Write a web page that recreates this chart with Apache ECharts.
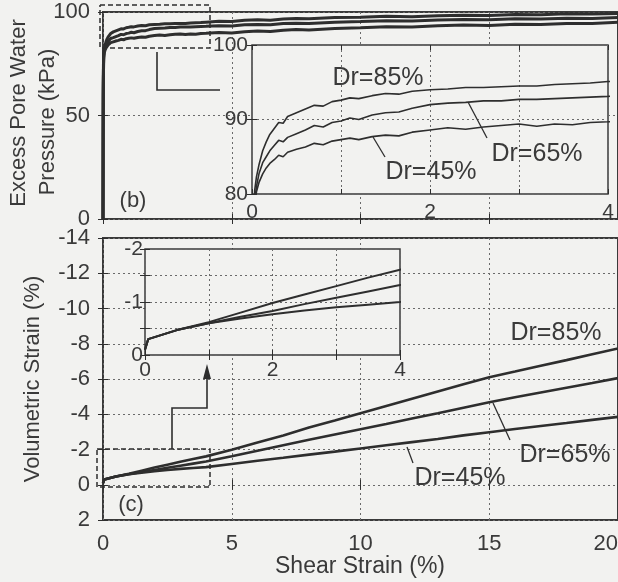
<!DOCTYPE html>
<html><head><meta charset="utf-8">
<script src="https://cdn.jsdelivr.net/npm/echarts/dist/echarts.min.js"></script>
<style>html,body{margin:0;padding:0;background:#f2f2f0}#c{width:618px;height:582px}</style>
</head><body><div id="c"></div>
<script>
// ---- Panel (b): excess pore water pressure (kPa) vs shear strain (%)
const bStrain = [0, 0.005, 0.01, 0.02, 0.03, 0.05, 0.08, 0.12, 0.16, 0.2, 0.25, 0.3, 0.35, 0.4, 0.5, 0.6, 0.7, 0.8, 0.9, 1.0, 1.1, 1.2, 1.35, 1.5, 1.65, 1.8, 2.0, 2.2, 2.4, 2.6, 2.8, 3.0, 3.2, 3.4, 3.6, 3.8, 4.0, 4.5, 5, 5.5, 6, 6.5, 7, 7.5, 8, 9, 10, 11, 12, 13, 14, 15, 16, 17, 18, 19, 20];
const bDr85 = [0, 40, 66, 77, 80.5, 82.3, 84.0, 85.8, 87.0, 88.0, 88.8, 89.6, 89.5, 90.4, 90.9, 91.4, 91.9, 91.8, 92.4, 92.6, 92.9, 92.8, 93.2, 93.5, 93.4, 93.8, 94.0, 94.1, 94.3, 94.3, 94.4, 94.5, 94.5, 94.7, 94.8, 94.9, 95.1, 95.5, 95.4, 96.0, 96.2, 96.0, 96.6, 96.9, 96.7, 97.3, 97.5, 97.9, 97.7, 98.2, 98.4, 98.3, 98.8, 98.7, 99.1, 99.0, 99.3];
const bDr65 = [0, 36, 62, 75, 79, 81.0, 82.8, 84.2, 85.0, 85.8, 86.5, 87.2, 87.0, 87.6, 88.1, 88.6, 89.2, 89.0, 89.6, 89.8, 90.2, 90.0, 90.6, 90.9, 91.0, 91.5, 92.0, 92.2, 92.3, 92.5, 92.5, 92.7, 92.7, 92.8, 92.9, 93.0, 93.1, 93.4, 93.2, 93.8, 94.0, 93.8, 94.4, 94.6, 94.5, 95.1, 95.4, 95.8, 95.6, 96.1, 96.4, 96.2, 96.7, 96.6, 97.0, 96.9, 97.3];
const bDr45 = [0, 32, 58, 72, 78, 80.3, 81.6, 82.7, 83.5, 84.1, 84.6, 85.2, 85.0, 85.6, 86.0, 86.3, 86.8, 86.6, 87.1, 87.3, 87.5, 87.3, 87.7, 87.9, 87.8, 88.3, 88.6, 88.9, 88.7, 89.0, 89.2, 89.4, 89.1, 89.4, 89.3, 89.6, 89.7, 90.1, 89.9, 90.5, 90.8, 90.6, 91.2, 91.5, 91.3, 92.0, 92.4, 92.9, 92.7, 93.3, 93.7, 93.5, 94.1, 94.0, 94.5, 94.4, 95.0];

// ---- Panel (c): volumetric strain (%) vs shear strain (%)
const cStrain = [0, 0.05, 0.5, 1, 1.5, 2, 2.5, 3, 3.5, 4, 5, 6, 7, 8, 9, 10, 11, 12, 13, 14, 15, 16, 17, 18, 19, 20];
const cDr85 = [-0.1, -0.3, -0.47, -0.62, -0.8, -0.98, -1.14, -1.3, -1.46, -1.61, -1.98, -2.4, -2.8, -3.25, -3.65, -4.06, -4.47, -4.88, -5.29, -5.7, -6.1, -6.42, -6.75, -7.07, -7.4, -7.73];
const cDr65 = [-0.1, -0.3, -0.47, -0.6, -0.72, -0.83, -0.96, -1.08, -1.2, -1.32, -1.62, -1.93, -2.24, -2.55, -2.85, -3.15, -3.45, -3.76, -4.06, -4.37, -4.68, -4.96, -5.23, -5.5, -5.77, -6.05];
const cDr45 = [-0.1, -0.3, -0.47, -0.6, -0.69, -0.77, -0.84, -0.9, -0.95, -1.0, -1.18, -1.36, -1.53, -1.71, -1.88, -2.06, -2.24, -2.42, -2.6, -2.8, -2.98, -3.16, -3.33, -3.5, -3.68, -3.85];

// ---- Labels
const seriesNames = ['Dr=85%', 'Dr=65%', 'Dr=45%'];
const titleB1 = 'Excess Pore Water';
const titleB2 = 'Pressure (kPa)';
const titleC = 'Volumetric Strain (%)';
const titleX = 'Shear Strain (%)';

const FONT = '"Liberation Sans", Arial, Helvetica, sans-serif';
const INK = '#2e2e2e';
const TXT = '#3a3a3a';
const GRIDC = '#6a6a6a';
const BG = '#f2f2f0';

const zip = (xs, ys) => xs.map((x, i) => [x, ys[i]]);

function axisBase(o) {
  return Object.assign({
    type: 'value',
    axisLine: { show: false },
    axisTick: { show: true, inside: true, length: 5, lineStyle: { color: INK, width: 1 } },
    axisLabel: { show: true, color: TXT, fontSize: 22, fontFamily: FONT, margin: 13 },
    splitLine: { show: true, lineStyle: { color: GRIDC, type: [2, 3], width: 1 } }
  }, o);
}
function mirror(o) {
  return axisBase(Object.assign({ axisLabel: { show: false }, splitLine: { show: false } }, o));
}

const evenLabel = v => (Math.round(v) % 2 === 0 ? String(v) : '');
const intLabel = v => (Number.isInteger(v) ? String(v) : '');

const option = {
  backgroundColor: BG,
  animation: false,
  grid: [
    { left: 103, top: 12, width: 515, height: 207, show: true, borderColor: '#3a3a3a', borderWidth: 2, backgroundColor: 'transparent', containLabel: false, outerBoundsMode: 'none' },
    { left: 252, top: 45, width: 356, height: 149, show: true, borderColor: '#3a3a3a', borderWidth: 1.5, backgroundColor: BG, z: 5, containLabel: false, outerBoundsMode: 'none' },
    { left: 103, top: 238, width: 515, height: 282, show: true, borderColor: '#3a3a3a', borderWidth: 2, backgroundColor: 'transparent', containLabel: false, outerBoundsMode: 'none' },
    { left: 145, top: 249, width: 255, height: 106, show: true, borderColor: '#3a3a3a', borderWidth: 1.5, backgroundColor: BG, z: 5, containLabel: false, outerBoundsMode: 'none' }
  ],
  xAxis: [
    axisBase({ gridIndex: 0, min: 0, max: 20, interval: 5, axisLabel: { show: false } }),
    axisBase({ gridIndex: 1, min: 0, max: 4, interval: 1, z: 6, axisLabel: { color: TXT, fontSize: 21, fontFamily: FONT, margin: 8, formatter: evenLabel } }),
    axisBase({ gridIndex: 2, min: 0, max: 20, interval: 5, axisLabel: { color: TXT, fontSize: 22, fontFamily: FONT, margin: 13, alignMaxLabel: 'right' } }),
    axisBase({ gridIndex: 3, min: 0, max: 4, interval: 1, z: 6, axisLabel: { color: TXT, fontSize: 21, fontFamily: FONT, margin: 5, formatter: evenLabel } }),
    mirror({ gridIndex: 0, position: 'top', min: 0, max: 20, interval: 5 }),
    mirror({ gridIndex: 1, position: 'top', min: 0, max: 4, interval: 1, z: 6 }),
    mirror({ gridIndex: 2, position: 'top', min: 0, max: 20, interval: 5 }),
    mirror({ gridIndex: 3, position: 'top', min: 0, max: 4, interval: 1, z: 6 })
  ],
  yAxis: [
    axisBase({ gridIndex: 0, min: 0, max: 100, interval: 50 }),
    axisBase({ gridIndex: 1, min: 80, max: 100, interval: 10, z: 6, axisLabel: { color: TXT, fontSize: 21, fontFamily: FONT, margin: 4 } }),
    axisBase({ gridIndex: 2, min: -14, max: 2, interval: 2, inverse: true }),
    axisBase({ gridIndex: 3, min: -2, max: 0, interval: 0.5, inverse: true, z: 6, axisLabel: { color: TXT, fontSize: 21, fontFamily: FONT, margin: 2, formatter: intLabel } }),
    mirror({ gridIndex: 0, position: 'right', min: 0, max: 100, interval: 50 }),
    mirror({ gridIndex: 1, position: 'right', min: 80, max: 100, interval: 10, z: 6 }),
    mirror({ gridIndex: 2, position: 'right', min: -14, max: 2, interval: 2, inverse: true }),
    mirror({ gridIndex: 3, position: 'right', min: -2, max: 0, interval: 0.5, inverse: true, z: 6 })
  ],
  series: []
};

const bSets = [bDr85, bDr65, bDr45];
const cSets = [cDr85, cDr65, cDr45];
bSets.forEach((d, i) => {
  option.series.push({ name: seriesNames[i], type: 'line', xAxisIndex: 0, yAxisIndex: 0, data: zip(bStrain, d), showSymbol: false, lineStyle: { color: INK, width: 3 }, z: 2 });
  option.series.push({ name: seriesNames[i], type: 'line', xAxisIndex: 1, yAxisIndex: 1, data: zip(bStrain, d), showSymbol: false, clip: true, lineStyle: { color: INK, width: 1.6 }, z: 7 });
});
cSets.forEach((d, i) => {
  option.series.push({ name: seriesNames[i], type: 'line', xAxisIndex: 2, yAxisIndex: 2, data: zip(cStrain, d), showSymbol: false, lineStyle: { color: INK, width: 2.6 }, z: 2 });
  option.series.push({ name: seriesNames[i], type: 'line', xAxisIndex: 3, yAxisIndex: 3, data: zip(cStrain, d), showSymbol: false, clip: true, lineStyle: { color: INK, width: 2 }, z: 7 });
});

function txt(text, x, y, size, rot) {
  return { type: 'text', x: x, y: y, rotation: rot || 0, z: 100,
    style: { text: text, fill: TXT, fontSize: size, fontFamily: FONT, align: 'center', verticalAlign: 'middle' } };
}
function line(pts, dash, w) {
  return { type: 'polyline', z: 100, shape: { points: pts },
    style: { stroke: INK, lineWidth: w || 1.3, fill: null, lineDash: dash || null } };
}
option.graphic = [
  txt(titleB1, 19, 113, 22, Math.PI / 2),
  txt(titleB2, 48, 122, 22, Math.PI / 2),
  txt(titleC, 33, 379, 22, Math.PI / 2),
  txt(titleX, 360, 567, 23, 0),
  txt('(b)', 133, 201, 22, 0),
  txt('(c)', 131, 505, 22, 0),
  txt(seriesNames[0], 378, 78, 25, 0),
  txt(seriesNames[1], 537, 154, 25, 0),
  txt(seriesNames[2], 431, 172, 25, 0),
  txt(seriesNames[0], 556, 333, 25, 0),
  txt(seriesNames[1], 565, 455, 25, 0),
  txt(seriesNames[2], 460, 478, 25, 0),
  line([[468, 102], [487, 138]]),
  line([[373, 137], [385, 157]]),
  line([[493, 403], [510, 440]]),
  line([[407, 447], [413, 463]]),
  // zoom boxes and connectors
  line([[100, 5], [210, 5], [210, 48], [100, 48], [100, 5]], [5, 3], 1.5),
  line([[157, 52], [157, 90], [220, 90]], null, 1.6),
  line([[97, 449], [210, 449], [210, 487], [97, 487], [97, 449]], [5, 3], 1.5),
  line([[172, 449], [172, 408], [207, 408], [207, 378]], null, 1.6),
  { type: 'polygon', z: 100, shape: { points: [[207, 364], [203, 379], [211, 379]] }, style: { fill: INK } }
];

const chart = echarts.init(document.getElementById('c'), null, { renderer: 'canvas' });
chart.setOption(option);
</script></body></html>
